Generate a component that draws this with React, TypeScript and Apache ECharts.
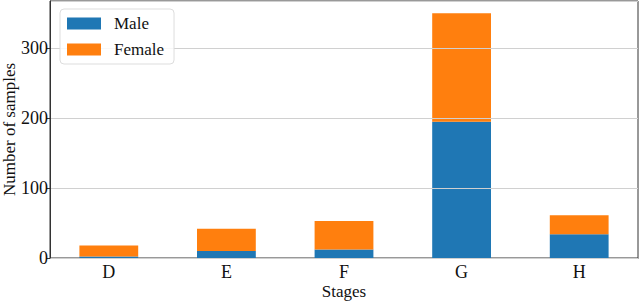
import React, { useEffect, useRef } from "react";
import * as echarts from "echarts";

const stages = ["D", "E", "F", "G", "H"];
const male = [2, 10, 12, 195, 34];
const female = [16, 32, 41, 155, 27];
const yTicks = [0, 100, 200, 300];

const FONT = "'Liberation Serif', 'DejaVu Serif', serif";

export default function App() {
  const ref = useRef<HTMLDivElement>(null);
  useEffect(() => {
    document.body.style.margin = "0";
    if (!ref.current) return;
    const chart = echarts.init(ref.current, undefined, { renderer: "svg" });
    chart.setOption({
      animation: false,
      textStyle: { fontFamily: FONT },
      grid: {
        left: 50,
        right: 2,
        top: 1,
        bottom: 43,
        outerBoundsMode: "none",
        containLabel: false,
        show: true,
        borderColor: "#333",
        borderWidth: 1,
        backgroundColor: "transparent",
      },
      legend: {
        left: 60,
        top: 9,
        z: 20,
        orient: "vertical",
        itemWidth: 34,
        itemHeight: 12,
        itemGap: 9,
        padding: [6, 10, 6, 7],
        borderColor: "#ddd",
        borderWidth: 1,
        borderRadius: 4,
        backgroundColor: "rgba(255,255,255,0.85)",
        textStyle: { fontFamily: FONT, fontSize: 17, color: "#111", padding: [0, 0, 0, 8] },
        data: ["Male", "Female"],
        icon: "rect",
      },
      xAxis: {
        type: "category",
        data: stages,
        name: "Stages",
        nameLocation: "middle",
        nameGap: 25,
        nameMoveOverlap: false,
        nameTextStyle: { fontFamily: FONT, fontSize: 17, color: "#111" },
        axisLine: { lineStyle: { color: "#333", width: 1 } },
        axisTick: { alignWithLabel: true, length: 4, lineStyle: { color: "#333" } },
        axisLabel: { fontFamily: FONT, fontSize: 18, color: "#111", margin: 5 },
      },
      yAxis: {
        type: "value",
        min: 0,
        max: 367.5,
        interval: 100,
        z: 5,
        name: "Number of samples",
        nameLocation: "middle",
        nameGap: 32,
        nameMoveOverlap: false,
        nameTextStyle: { fontFamily: FONT, fontSize: 17, color: "#111" },
        axisLine: { show: true, lineStyle: { color: "#333", width: 1 } },
        axisTick: { show: true, length: 4, lineStyle: { color: "#333" } },
        axisLabel: {
          fontFamily: FONT,
          fontSize: 18,
          color: "#111",
          margin: 2,
          showMaxLabel: false,
          formatter: (v: number) => (yTicks.includes(v) ? String(v) : ""),
        },
        splitLine: { show: true, lineStyle: { color: "#d0d0d0", width: 1 } },
      },
      series: [
        {
          name: "Male",
          type: "bar",
          stack: "total",
          data: male,
          barWidth: "50%",
          itemStyle: { color: "#1f77b4" },
        },
        {
          name: "Female",
          type: "bar",
          stack: "total",
          data: female,
          barWidth: "50%",
          itemStyle: { color: "#ff7f0e" },
        },
      ],
    });
    return () => chart.dispose();
  }, []);
  return <div ref={ref} style={{ width: 640, height: 301 }} />;
}
